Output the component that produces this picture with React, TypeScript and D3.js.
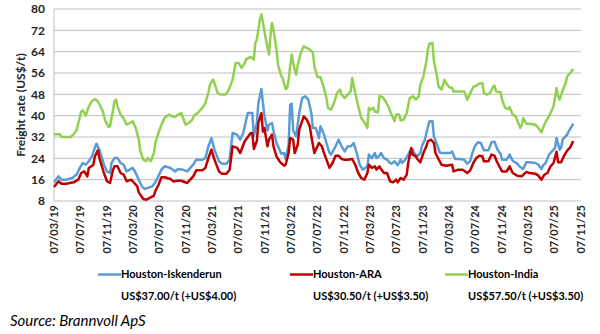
import React from "react";
import * as d3 from "d3";

// Weekly data: [week number since 7 Mar 2019, US$/t]
const startDate = "2019-03-07";
const endDate = "2025-11-07";

const iskenderun: [number, number][] = [
  [0, 15], [3, 17.25], [5, 16], [8, 16], [12, 16.6], [15, 17.9], [17, 20.4], [19, 22.25], [21, 21.6], [23, 22.9],
  [25, 24.75], [27, 27.9], [28, 29.5], [30, 27.25], [33, 21.6], [35, 19.1], [37, 18.5], [38, 22.25], [40, 24.1],
  [42, 24.1], [44, 22.25], [46, 21.6], [48, 19.1], [50, 19.75], [52, 20.4], [54, 18.5], [56, 16], [58, 13.5],
  [60, 12.5], [62, 12.9], [65, 13.5], [67, 15], [69, 17.4], [71, 19.75], [73, 21], [77, 20.4], [80, 19.1],
  [82, 20], [85, 19.75], [88, 19.1], [90, 20.4], [92, 21.6], [94, 23.5], [98, 23.5], [100, 24.1], [102, 28.5],
  [104, 31.6], [106, 27.25], [109, 22.9], [111, 22], [114, 22], [116, 23.5], [118, 33.5], [121, 32.9], [123, 31],
  [125, 33.5], [128, 41], [131, 41], [132, 32.25], [134, 37.25], [135, 44.75], [137, 50], [138, 45], [139, 40],
  [141, 34.4], [142, 36.6], [144, 37.25], [145, 34.4], [147, 29.75], [149, 27.25], [150, 25.75], [152, 26],
  [153, 23.75], [155, 29.1], [156, 44.1], [157, 44.5], [158, 34.4], [160, 32.25], [162, 41], [164, 46.6],
  [166, 47.25], [168, 46], [170, 41], [171, 35.4], [173, 35.4], [175, 31.6], [176, 36], [178, 33.5], [180, 29.75],
  [182, 26], [183, 25.4], [186, 28.5], [188, 31], [190, 28.5], [192, 26.6], [194, 28.5], [196, 28.5], [198, 29.75],
  [200, 26], [202, 21.6], [204, 19.75], [207, 21], [208, 25.4], [210, 24.1], [212, 26], [213, 24.1], [215, 25],
  [216, 26], [218, 24.1], [220, 23.5], [222, 22.25], [223, 22], [225, 22.9], [227, 21.4], [229, 23.5], [230, 22.25],
  [232, 23.5], [234, 25.4], [235, 26.6], [237, 27.25], [238, 26], [240, 24.75], [242, 26], [243, 28.5], [245, 31],
  [247, 35.75], [248, 37.9], [250, 37.9], [251, 32.25], [253, 29.1], [255, 26], [258, 26], [262, 26], [263, 26.6],
  [265, 23.75], [268, 23.75], [271, 23.5], [273, 22], [275, 23], [276, 25.4], [278, 28.5], [280, 30], [282, 29.75],
  [284, 27], [287, 27], [289, 30], [291, 30.25], [293, 27.25], [295, 25.75], [296, 23.5], [299, 23.5], [301, 25.4],
  [303, 23.1], [306, 22], [308, 20.75], [310, 20], [312, 22.5], [314, 22.5], [318, 22.25], [320, 21.6], [322, 20],
  [323, 21.25], [325, 22.5], [327, 25.4], [329, 26.6], [331, 27.9], [332, 31.6], [334, 27.25], [335, 27.9],
  [336, 31], [339, 32.9], [340, 34.1], [342, 36], [343, 37],
];

const ara: [number, number][] = [
  [0, 13.25], [3, 15.4], [5, 14.5], [8, 14.5], [13, 15], [16, 16], [18, 18.5], [20, 19.1], [22, 17.25], [23, 20.4],
  [26, 21.6], [27, 24.75], [29, 27], [30, 24.1], [33, 18.5], [35, 15.4], [37, 14.75], [39, 19.75], [40, 21],
  [42, 21], [44, 18.5], [46, 17.9], [48, 15.4], [51, 16], [52, 15.4], [55, 13.5], [56, 11.25], [59, 8.75],
  [61, 8.5], [63, 9.1], [66, 10], [67, 11.8], [69, 14], [71, 16.9], [73, 16.9], [77, 16.25], [79, 15.25],
  [81, 15.6], [84, 15.6], [88, 14.75], [90, 16], [92, 17.25], [94, 19.5], [98, 19.5], [100, 20.4], [102, 24.1],
  [104, 27.25], [106, 23.5], [109, 19.1], [111, 18.25], [114, 18.25], [116, 19.75], [118, 28.5], [121, 27.9],
  [123, 26], [126, 30.4], [130, 33.5], [131, 33.5], [132, 27.5], [134, 30.5], [135, 37.25], [137, 41], [138, 34],
  [139, 35.4], [141, 28.5], [142, 31], [144, 32.9], [145, 28.5], [147, 24.75], [149, 22.9], [150, 22.25],
  [152, 21.25], [153, 21.6], [155, 26], [156, 31.6], [158, 31], [159, 26], [161, 29.1], [162, 34.75], [165, 39.75],
  [167, 38.5], [169, 36], [170, 32.25], [172, 26], [174, 28.5], [175, 29.75], [177, 28.5], [178, 26.6], [180, 23.5],
  [182, 20.4], [184, 22.25], [186, 25], [188, 25], [190, 23.75], [192, 23.5], [194, 23.5], [197, 23.75],
  [199, 21.6], [201, 18.5], [203, 16.6], [205, 16], [207, 18.5], [208, 21.6], [210, 20.4], [212, 21], [213, 19.75],
  [215, 21], [216, 20], [218, 18.5], [220, 18.5], [222, 15.4], [224, 15], [226, 16], [227, 15], [229, 16.6],
  [231, 16], [233, 17.9], [234, 22.25], [236, 27.9], [237, 25.4], [239, 24.75], [240, 23.75], [242, 22.5],
  [244, 26], [246, 28.5], [247, 30.4], [249, 31], [251, 29.75], [252, 26], [254, 23.75], [256, 21.6], [259, 21.25],
  [263, 21.6], [264, 19.1], [267, 19.75], [270, 19.75], [273, 18.5], [275, 19.5], [277, 22.25], [279, 24.1],
  [281, 25], [283, 24.75], [284, 22.9], [287, 22.9], [289, 25.4], [291, 25], [293, 22.25], [296, 19.1], [299, 19.1],
  [301, 21], [303, 18.5], [306, 17.5], [309, 17.25], [312, 18.9], [314, 18.5], [318, 18.25], [320, 17.5], [322, 16],
  [324, 17.9], [326, 18.5], [328, 21], [330, 22.25], [332, 26.5], [333, 22.5], [335, 22.5], [337, 25], [339, 26.9],
  [341, 28.1], [343, 30.5],
];

const india: [number, number][] = [
  [0, 33], [4, 33], [5, 32], [11, 32], [13, 33], [15, 34.7], [18, 41.6], [19, 42], [21, 40], [23, 43.5], [25, 45.4],
  [27, 46.25], [29, 45.4], [32, 42], [34, 37.9], [36, 35.75], [37, 36], [39, 42], [40, 45.4], [41, 46], [42, 43.5],
  [44, 40.4], [46, 39], [48, 36.6], [50, 37.25], [52, 37.9], [54, 35.4], [56, 31], [57, 26.6], [59, 23.5],
  [61, 22.9], [62, 24.1], [64, 22.9], [66, 26], [67, 29.9], [69, 33.5], [71, 36.6], [73, 39.1], [76, 40.4],
  [78, 39.75], [80, 39.5], [82, 40.4], [84, 41], [87, 36.6], [89, 37.25], [91, 38.25], [93, 40.4], [95, 41],
  [98, 42.9], [100, 44.75], [102, 48.6], [103, 51.6], [105, 53.5], [106, 52.25], [108, 48.6], [110, 47.9],
  [113, 47.9], [115, 49.1], [118, 53.5], [120, 59.75], [122, 59.75], [124, 57.9], [126, 59.75], [127, 61.25],
  [130, 62], [132, 61], [133, 67.25], [134, 68.5], [135, 72.25], [136, 76], [137, 78], [138, 75], [140, 68.5],
  [142, 62.9], [143, 70], [144, 74.75], [145, 72.25], [147, 64.75], [148, 59.1], [150, 55], [151, 54.1], [153, 50],
  [154, 50.4], [155, 53.5], [156, 58.5], [157, 62.9], [159, 57.25], [160, 55.4], [161, 59.1], [163, 63.5],
  [165, 66], [167, 65.4], [169, 64.75], [171, 63.75], [172, 58.5], [174, 54.5], [176, 54.5], [178, 51], [180, 46.6],
  [181, 42.9], [183, 42.25], [185, 44.75], [187, 48.5], [189, 49.75], [190, 47.9], [192, 46.6], [194, 47.9],
  [196, 49.1], [197, 54.1], [199, 48.5], [201, 43.5], [203, 39.1], [205, 37.5], [206, 36.5], [207, 35.4],
  [208, 42.9], [209, 42.25], [211, 42.9], [212, 41.5], [214, 41.25], [215, 47.25], [217, 47], [219, 45.4],
  [221, 43.25], [223, 40.4], [225, 37.9], [226, 40.4], [228, 40.4], [229, 38.25], [231, 38.5], [233, 41],
  [235, 46.6], [237, 47.25], [239, 46], [241, 47.25], [242, 51.6], [244, 54.75], [246, 60.4], [247, 64.75],
  [248, 67], [250, 67.25], [251, 60.4], [253, 54.75], [254, 51], [256, 49.75], [258, 53.5], [259, 52.25],
  [261, 50.75], [263, 50.4], [264, 49.1], [267, 49.1], [271, 49.1], [273, 46], [274, 47.25], [277, 50.75],
  [279, 51.25], [281, 52], [283, 52.25], [284, 48.5], [286, 47.9], [288, 48.5], [290, 50.75], [291, 51.25],
  [292, 49.1], [295, 48.75], [296, 46], [298, 42.9], [300, 42.5], [301, 43.25], [303, 40.4], [305, 39.75],
  [306, 38.25], [308, 35.4], [309, 36.6], [310, 39.1], [312, 37], [314, 37], [318, 36.6], [320, 35.4],
  [322, 33.75], [323, 35.4], [325, 37.9], [327, 39.75], [329, 42.25], [330, 43.5], [332, 50.4], [333, 47.25],
  [334, 46], [336, 49.4], [338, 52.25], [339, 54.75], [341, 56], [343, 57.5],
];

const yTicks = [8, 16, 24, 32, 40, 48, 56, 64, 72, 80];
const tickMonthsPerStep = 4;

const seriesNames = ["Houston-Iskenderun", "Houston-ARA", "Houston-India"];
const seriesLabels = ["US$37.00/t (+US$4.00)", "US$30.50/t (+US$3.50)", "US$57.50/t (+US$3.50)"];
const seriesColors = ["#5b9bd5", "#c00000", "#92d050"];

export default function App() {
  const W = 600, H = 334;
  const left = 54, right = 581, top = 9, bottom = 201;
  const start = d3.timeParse("%Y-%m-%d")(startDate)!;
  const end = d3.timeParse("%Y-%m-%d")(endDate)!;
  const x = d3.scaleTime().domain([start, end]).range([left, right]);
  const y = d3.scaleLinear().domain([8, 80]).range([bottom, top]);
  const xTicks: Date[] = [];
  for (let d = start; d <= end; d = d3.timeMonth.offset(d, tickMonthsPerStep)) xTicks.push(d);
  const fmt = d3.timeFormat("%d/%m/%y");
  const line = d3
    .line<[number, number]>()
    .x((p) => x(d3.timeDay.offset(start, p[0] * 7)))
    .y((p) => y(p[1]));
  const all = [iskenderun, ara, india];
  const legendX = [98, 290, 445];
  const font = "Lato, 'Liberation Sans', sans-serif";

  return (
    <svg width={W} height={H} style={{ position: "absolute", left: 0, top: 0, background: "#fff" }} fontFamily={font}>
      {yTicks.map((t) => (
        <g key={t}>
          <line x1={left} x2={right} y1={y(t)} y2={y(t)} stroke="#bfbfbf" strokeWidth={1} />
          <text x={45} y={y(t)} dy="0.35em" textAnchor="end" fontSize={12} fontWeight={700} fill="#262626">
            {t}
          </text>
        </g>
      ))}
      <line x1={left} x2={left} y1={top} y2={bottom} stroke="#bfbfbf" strokeWidth={1} />
      {xTicks.map((d, i) => (
        <text
          key={i}
          transform={`translate(${x(d)},205) rotate(-90)`}
          dy="0.35em"
          textAnchor="end"
          fontSize={11}
          fontWeight={700}
          fill="#262626"
        >
          {fmt(d)}
        </text>
      ))}
      <text
        transform={`translate(21,${(top + bottom) / 2}) rotate(-90)`}
        textAnchor="middle"
        dy="0.35em"
        fontSize={12}
        fontWeight={700}
        fill="#262626"
      >
        Freight rate (US$/t)
      </text>
      {all.map((s, i) => (
        <path key={i} d={line(s)!} fill="none" stroke={seriesColors[i]} strokeWidth={2.5} strokeLinejoin="round" />
      ))}
      {seriesNames.map((n, i) => (
        <g key={n}>
          <line x1={legendX[i]} x2={legendX[i] + 23} y1={274.5} y2={274.5} stroke={seriesColors[i]} strokeWidth={2.5} />
          <text x={legendX[i] + 23} y={274.5} dy="0.35em" fontSize={11} fontWeight={700} fill="#000">
            {n}
          </text>
          <text x={legendX[i] + 23} y={296.5} dy="0.35em" fontSize={11} fontWeight={700} fill="#000">
            {seriesLabels[i]}
          </text>
        </g>
      ))}
      <text x={10} y={321} dy="0.35em" fontSize={15} fontStyle="italic" fill="#000">
        Source: Brannvoll ApS
      </text>
    </svg>
  );
}
